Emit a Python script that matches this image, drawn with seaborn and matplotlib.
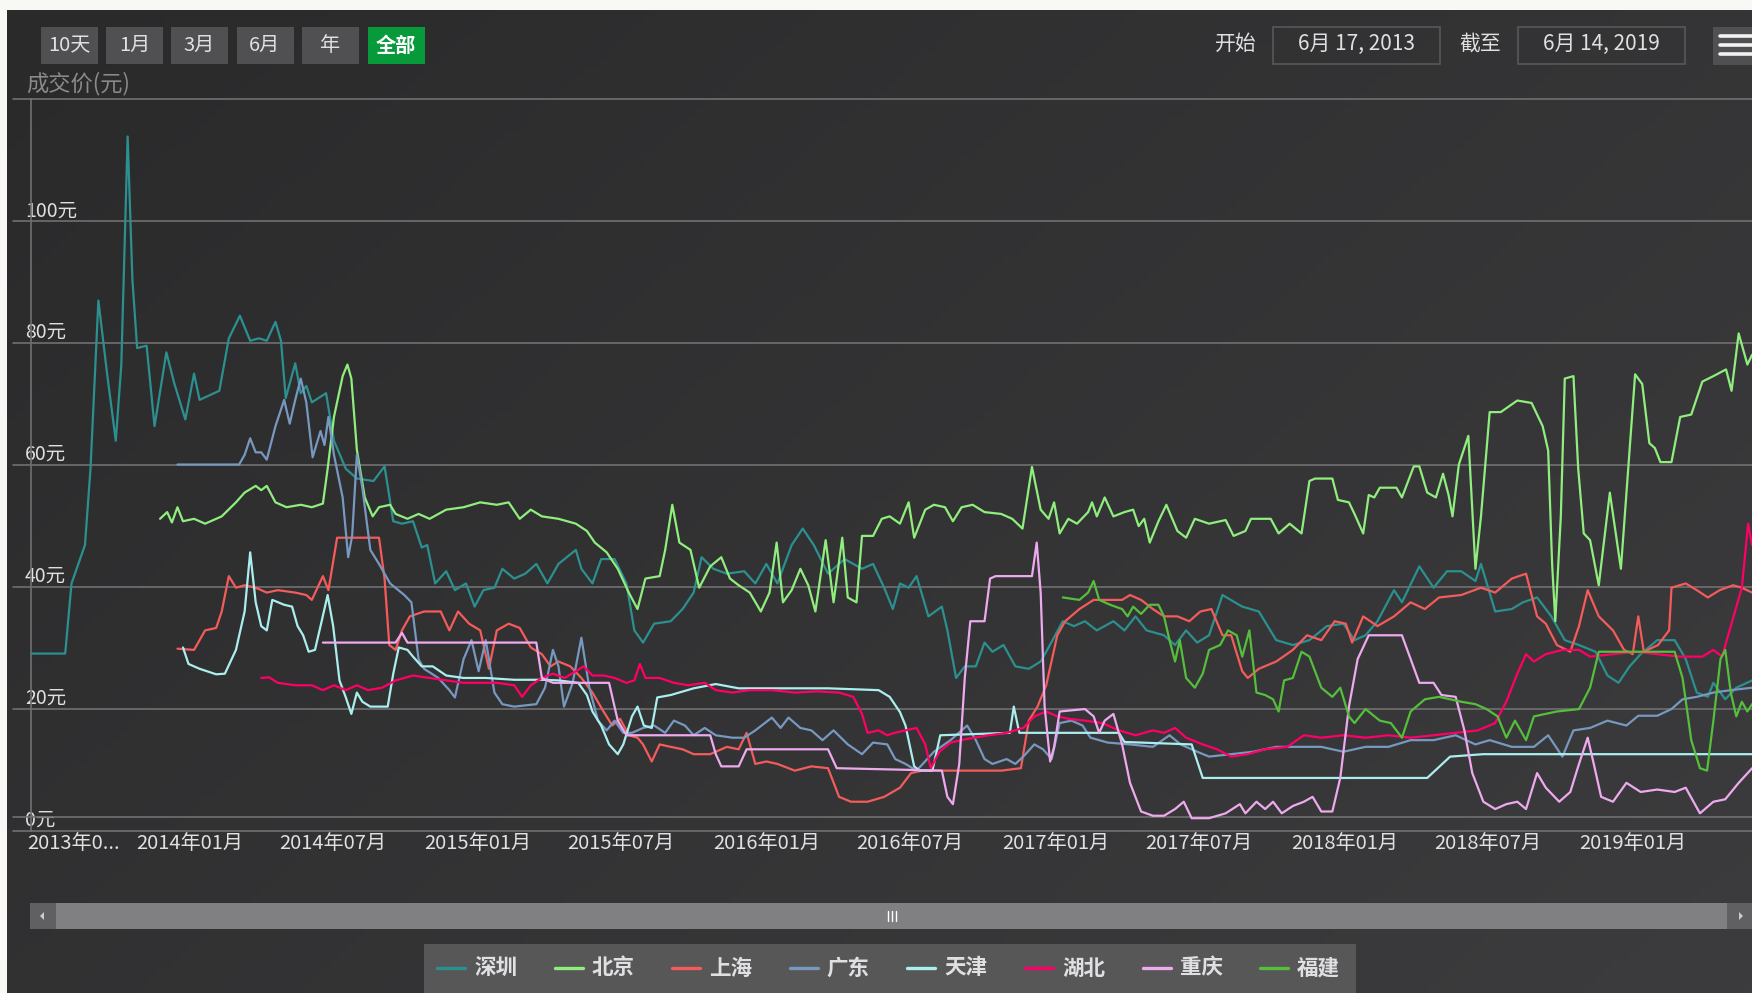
import matplotlib
matplotlib.use('Agg')

import numpy as np
import pandas as pd
import matplotlib.pyplot as plt
import seaborn as sns
from matplotlib.patches import Rectangle, Polygon
from matplotlib.lines import Line2D
from matplotlib.colors import to_rgb
from matplotlib.transforms import ScaledTranslation

# x values are days counted from BASE_DATE
BASE_DATE = pd.Timestamp('2014-01-01')

cities = ['深圳', '北京', '上海', '广东', '天津', '湖北', '重庆', '福建']
colors = ['#2b908f', '#90ee7e', '#f45b5b', '#7798bf', '#aaeeee', '#ff0066', '#eeaaee', '#55bf3b']

shenzhen = [(-200, 29.1), (-157, 29.1), (-149, 40.6), (-132, 46.9), (-125, 59.4), (-115, 87.0), (-104, 75.0),
            (-93, 64.0), (-86, 76.5), (-78, 113.9), (-72, 90.5), (-66, 79.2), (-54, 79.6), (-44, 66.4),
            (-29, 78.5), (-19, 73.4), (-5, 67.5), (6, 75.0), (13, 70.7), (38, 72.2), (50, 80.8), (64, 84.5),
            (77, 80.4), (88, 80.8), (98, 80.4), (109, 83.5), (116, 80.4), (122, 71.0), (134, 76.7), (141, 71.8),
            (148, 73.0), (155, 70.3), (173, 71.8), (183, 64.0), (198, 59.4), (212, 57.8), (233, 57.4),
            (247, 59.8), (258, 50.8), (269, 50.4), (283, 50.8), (294, 46.5), (301, 46.9), (311, 40.6),
            (325, 42.6), (336, 39.5), (350, 40.6), (361, 36.8), (372, 39.5), (386, 39.9), (396, 43.0),
            (411, 41.4), (425, 42.2), (439, 43.8), (453, 40.6), (467, 43.8), (489, 46.1), (496, 43.0),
            (510, 40.6), (521, 44.6), (538, 44.6), (553, 40.6), (563, 32.9), (574, 30.9), (588, 34.0),
            (609, 34.4), (624, 36.4), (638, 39.1), (648, 44.9), (663, 43.0), (680, 42.2), (702, 42.6),
            (716, 40.6), (730, 43.8), (744, 40.6), (762, 46.9), (776, 49.6), (790, 46.9), (808, 42.2),
            (829, 44.6), (851, 43.0), (865, 43.8), (879, 39.9), (890, 36.4), (899, 40.6), (910, 39.9),
            (920, 41.8), (935, 35.2), (952, 36.8), (959, 32.9), (970, 25.1), (981, 27.0), (995, 27.0),
            (1006, 30.9), (1016, 29.4), (1030, 30.5), (1045, 27.0), (1062, 26.6), (1077, 27.8), (1087, 30.1),
            (1105, 34.4), (1119, 33.6), (1133, 34.4), (1148, 32.9), (1169, 34.4), (1183, 32.9), (1197, 35.2),
            (1211, 32.9), (1233, 32.1), (1247, 30.5), (1261, 32.9), (1275, 30.9), (1290, 32.1), (1307, 38.7),
            (1332, 36.8), (1353, 36.0), (1375, 31.3), (1396, 30.5), (1417, 31.3), (1439, 33.6), (1460, 34.0),
            (1474, 31.3), (1488, 32.1), (1503, 34.4), (1524, 39.5), (1534, 37.5), (1556, 43.4), (1574, 39.9),
            (1591, 42.6), (1609, 42.6), (1627, 41.0), (1634, 43.8), (1652, 36.0), (1673, 36.4), (1687, 37.5),
            (1705, 38.3), (1723, 35.2), (1740, 31.3), (1758, 30.5), (1779, 29.4), (1794, 25.5), (1808, 24.3),
            (1822, 27.0), (1836, 29.0), (1857, 31.3), (1879, 31.3), (1893, 28.2), (1907, 22.7), (1921, 22.0),
            (1928, 24.3), (1943, 21.6), (1957, 23.5), (1977, 24.7)]

beijing = [(-37, 51.2), (-28, 52.3), (-22, 50.6), (-15, 53.1), (-8, 50.8), (6, 51.2), (20, 50.4), (41, 51.6),
           (59, 53.9), (70, 55.5), (84, 56.6), (91, 55.9), (98, 56.6), (109, 53.9), (123, 53.1), (141, 53.5),
           (155, 53.1), (169, 53.7), (175, 59.4), (183, 67.9), (194, 74.6), (200, 76.5), (205, 74.2),
           (212, 62.5), (222, 54.7), (232, 51.6), (240, 53.1), (254, 53.5), (261, 52.0), (276, 51.2),
           (290, 52.0), (304, 51.2), (325, 52.7), (347, 53.1), (368, 53.9), (389, 53.5), (404, 53.9),
           (418, 51.2), (432, 52.7), (446, 51.6), (467, 51.2), (489, 50.4), (503, 49.2), (513, 47.3),
           (528, 45.7), (542, 43.0), (556, 39.1), (567, 36.4), (577, 41.4), (595, 41.8), (602, 46.1),
           (611, 53.5), (620, 47.3), (634, 46.1), (645, 39.9), (659, 43.4), (673, 44.9), (684, 41.4),
           (695, 40.3), (709, 39.1), (723, 36.0), (734, 39.1), (743, 47.3), (751, 37.5), (762, 39.5),
           (773, 43.0), (783, 40.3), (792, 36.0), (805, 47.7), (815, 37.5), (826, 48.1), (833, 38.3),
           (844, 37.5), (851, 48.4), (865, 48.4), (876, 51.2), (886, 51.6), (899, 50.4), (910, 53.9),
           (917, 48.1), (931, 52.7), (942, 53.5), (956, 53.1), (966, 50.8), (977, 53.1), (991, 53.5),
           (1006, 52.3), (1027, 52.0), (1041, 51.2), (1054, 49.6), (1066, 59.7), (1077, 52.7), (1087, 51.2),
           (1094, 53.9), (1101, 48.8), (1112, 51.2), (1123, 50.4), (1137, 52.3), (1142, 53.9), (1148, 51.6),
           (1158, 54.7), (1169, 51.6), (1183, 52.3), (1194, 52.7), (1201, 50.0), (1208, 51.2), (1215, 47.3),
           (1226, 50.8), (1236, 53.5), (1250, 49.2), (1261, 48.1), (1272, 51.2), (1290, 50.4), (1311, 51.0),
           (1321, 48.4), (1336, 49.2), (1343, 51.2), (1368, 51.2), (1378, 48.8), (1392, 50.4), (1407, 48.8),
           (1417, 57.4), (1424, 57.8), (1446, 57.8), (1453, 54.3), (1467, 53.9), (1474, 52.0), (1485, 48.8),
           (1492, 55.1), (1499, 54.7), (1506, 56.3), (1527, 56.3), (1534, 54.7), (1549, 59.8), (1556, 59.8),
           (1566, 55.5), (1577, 54.7), (1586, 58.6), (1593, 55.1), (1598, 51.6), (1606, 60.1), (1618, 64.8),
           (1627, 43.0), (1634, 51.6), (1645, 68.7), (1659, 68.7), (1680, 70.6), (1698, 70.2), (1712, 66.4),
           (1719, 62.4), (1724, 43.8), (1728, 34.4), (1735, 51.6), (1740, 74.2), (1751, 74.6), (1757, 59.4),
           (1764, 48.8), (1772, 47.7), (1783, 40.3), (1797, 55.5), (1811, 43.0), (1818, 55.5), (1829, 74.9),
           (1838, 73.3), (1847, 63.6), (1854, 62.8), (1861, 60.5), (1875, 60.5), (1886, 67.9), (1900, 68.3),
           (1914, 73.7), (1928, 74.6), (1944, 75.7), (1951, 72.2), (1960, 81.6), (1971, 76.5), (1977, 78.1)]

shanghai = [(-15, 29.9), (6, 29.7), (20, 32.9), (34, 33.3), (41, 36.0), (50, 41.8), (59, 39.9), (70, 40.3),
            (84, 39.9), (98, 39.1), (112, 39.5), (134, 39.1), (148, 38.7), (155, 37.9), (169, 41.8), (176, 39.5),
            (187, 48.1), (240, 48.1), (247, 41.4), (253, 30.5), (261, 29.7), (269, 32.9), (279, 35.2),
            (297, 36.0), (318, 36.0), (329, 32.9), (340, 36.0), (354, 34.0), (368, 32.9), (379, 26.6),
            (389, 32.9), (404, 34.0), (418, 33.3), (432, 30.1), (446, 29.0), (457, 27.0), (467, 27.8),
            (482, 27.0), (496, 25.1), (510, 22.7), (524, 19.6), (535, 17.3), (545, 18.4), (556, 15.7),
            (567, 15.3), (574, 14.2), (585, 11.4), (595, 14.2), (609, 13.8), (624, 13.4), (638, 12.6),
            (659, 12.6), (680, 13.8), (695, 13.4), (705, 16.1), (716, 11.0), (730, 11.4), (744, 11.0),
            (766, 9.9), (787, 10.6), (808, 10.3), (822, 5.6), (837, 4.8), (858, 4.8), (879, 5.6), (899, 7.1),
            (913, 9.5), (927, 9.9), (956, 9.9), (991, 9.9), (1027, 9.9), (1052, 10.3), (1062, 18.1),
            (1073, 20.4), (1084, 23.9), (1098, 32.1), (1108, 34.4), (1126, 36.4), (1144, 37.9), (1162, 37.9),
            (1180, 37.9), (1190, 38.7), (1204, 37.9), (1219, 36.4), (1233, 35.2), (1250, 35.2), (1265, 34.4),
            (1279, 36.0), (1293, 36.4), (1307, 32.1), (1318, 32.1), (1332, 26.2), (1339, 25.1), (1353, 26.6),
            (1375, 27.8), (1396, 29.7), (1414, 32.1), (1432, 31.3), (1449, 34.4), (1463, 34.0), (1471, 30.9),
            (1485, 35.2), (1503, 33.6), (1524, 35.2), (1545, 37.5), (1563, 36.4), (1581, 38.3), (1609, 38.7),
            (1634, 39.9), (1652, 39.1), (1673, 41.4), (1691, 42.2), (1705, 35.2), (1716, 34.0), (1730, 30.5),
            (1747, 29.4), (1758, 33.6), (1769, 39.5), (1783, 35.2), (1801, 32.9), (1815, 29.7), (1826, 29.0),
            (1833, 35.2), (1840, 29.4), (1858, 30.5), (1872, 32.9), (1875, 39.9), (1893, 40.6), (1907, 39.5),
            (1921, 38.3), (1936, 39.5), (1953, 40.3), (1964, 39.9), (1977, 39.1)]

guangdong = [(-15, 60.1), (63, 60.1), (70, 61.7), (77, 64.4), (84, 62.1), (91, 62.1), (98, 60.9), (109, 66.4),
             (120, 70.7), (127, 66.8), (134, 70.7), (141, 74.2), (148, 70.3), (156, 61.3), (166, 65.6),
             (171, 63.3), (176, 67.9), (183, 61.7), (194, 54.7), (201, 44.9), (206, 48.4), (212, 61.7),
             (219, 56.2), (229, 46.1), (240, 43.8), (254, 40.6), (272, 38.7), (281, 37.5), (290, 28.2),
             (297, 26.6), (315, 25.1), (329, 23.1), (336, 21.9), (347, 28.2), (357, 31.3), (366, 26.2),
             (375, 31.3), (386, 22.7), (396, 20.8), (411, 20.4), (439, 20.8), (450, 23.5), (460, 29.7),
             (467, 27.0), (474, 20.4), (485, 24.3), (496, 31.7), (506, 23.5), (517, 18.1), (528, 16.5),
             (538, 18.1), (549, 16.1), (560, 16.1), (574, 16.9), (588, 17.3), (602, 16.1), (613, 18.1),
             (627, 17.3), (638, 15.7), (652, 16.9), (666, 15.7), (687, 15.3), (702, 15.3), (716, 16.5),
             (737, 18.6), (748, 16.9), (758, 18.6), (773, 16.9), (787, 16.5), (801, 14.9), (815, 16.5),
             (833, 14.2), (851, 12.6), (865, 14.5), (883, 14.2), (893, 11.8), (906, 11.0), (920, 9.9),
             (942, 13.0), (963, 14.9), (984, 17.3), (995, 14.9), (1006, 11.8), (1016, 11.0), (1034, 11.8),
             (1045, 11.0), (1055, 12.2), (1069, 14.2), (1080, 13.4), (1091, 11.8), (1101, 17.7), (1116, 18.1),
             (1130, 17.3), (1140, 15.3), (1162, 14.5), (1190, 14.2), (1219, 13.8), (1240, 15.7), (1254, 14.2),
             (1275, 13.0), (1290, 12.2), (1318, 12.6), (1346, 13.0), (1375, 13.8), (1403, 13.8), (1432, 13.8),
             (1460, 13.0), (1488, 13.8), (1517, 13.8), (1545, 14.9), (1574, 14.9), (1602, 15.7), (1627, 14.2),
             (1645, 14.9), (1673, 13.8), (1701, 13.8), (1719, 15.7), (1737, 12.2), (1751, 16.5), (1772, 16.9),
             (1794, 18.1), (1818, 17.3), (1833, 18.9), (1857, 18.9), (1875, 20.0), (1889, 21.6), (1907, 22.0),
             (1928, 22.7), (1950, 23.1), (1977, 23.5)]

tianjin = [(-8, 30.1), (-1, 27.4), (13, 26.6), (34, 25.7), (45, 25.8), (59, 29.7), (70, 36.0), (77, 45.7),
           (84, 37.5), (91, 33.6), (98, 32.9), (105, 37.9), (120, 37.1), (130, 36.8), (137, 33.6), (144, 32.1),
           (151, 29.4), (159, 29.7), (166, 33.6), (175, 38.7), (182, 33.6), (190, 24.7), (198, 21.9),
           (205, 19.2), (212, 22.7), (219, 21.2), (229, 20.4), (251, 20.4), (258, 25.8), (265, 30.1),
           (276, 29.7), (283, 28.6), (294, 27.0), (308, 27.0), (325, 25.5), (347, 25.1), (375, 25.1),
           (411, 24.8), (446, 24.8), (467, 24.7), (492, 24.3), (503, 22.3), (510, 19.6), (521, 17.3),
           (531, 14.2), (542, 12.6), (549, 14.2), (560, 18.8), (567, 20.4), (575, 17.3), (585, 16.9),
           (592, 21.9), (609, 22.3), (638, 23.4), (666, 24.1), (695, 23.4), (751, 23.4), (808, 23.4),
           (872, 23.1), (886, 22.0), (899, 19.5), (906, 17.3), (917, 10.6), (924, 9.9), (940, 9.9),
           (950, 15.7), (1038, 16.1), (1043, 20.4), (1050, 16.1), (1176, 16.1), (1183, 14.6), (1268, 14.2),
           (1282, 8.7), (1566, 8.7), (1595, 12.2), (1637, 12.6), (1977, 12.6)]

hubei = [(91, 25.1), (101, 25.2), (112, 24.3), (134, 23.9), (155, 23.9), (169, 23.1), (183, 23.9), (198, 23.1),
         (212, 23.9), (226, 23.1), (244, 23.5), (261, 24.7), (283, 25.5), (304, 25.1), (325, 24.7), (347, 24.3),
         (368, 24.3), (389, 24.3), (411, 23.9), (421, 22.0), (432, 23.9), (446, 25.1), (460, 25.8), (475, 25.1),
         (489, 26.2), (499, 27.0), (510, 25.5), (524, 25.5), (538, 25.1), (553, 24.3), (563, 24.7), (570, 27.4),
         (577, 25.1), (595, 25.1), (613, 24.3), (631, 23.9), (652, 24.3), (666, 23.1), (687, 22.7), (709, 23.1),
         (737, 23.1), (766, 22.7), (794, 22.9), (822, 22.7), (840, 22.0), (851, 19.2), (858, 16.1), (872, 16.5),
         (883, 15.7), (892, 16.1), (906, 16.5), (920, 16.9), (931, 14.2), (938, 10.3), (949, 13.0), (963, 14.5),
         (984, 15.1), (1006, 15.6), (1034, 16.1), (1055, 16.9), (1069, 18.8), (1084, 19.6), (1098, 18.8),
         (1112, 18.4), (1133, 18.1), (1155, 17.7), (1176, 16.5), (1197, 15.7), (1219, 16.5), (1233, 16.1),
         (1247, 16.9), (1261, 15.3), (1282, 14.2), (1300, 13.4), (1318, 12.2), (1339, 12.6), (1361, 13.4),
         (1389, 13.8), (1410, 15.7), (1432, 15.3), (1460, 15.7), (1488, 15.3), (1517, 15.7), (1545, 15.3),
         (1574, 15.7), (1602, 16.1), (1630, 16.5), (1652, 17.7), (1666, 21.2), (1680, 25.8), (1691, 29.0),
         (1701, 27.8), (1716, 29.0), (1737, 29.7), (1758, 29.7), (1772, 28.6), (1801, 29.0), (1829, 29.4),
         (1857, 29.0), (1886, 28.6), (1914, 28.6), (1928, 29.7), (1939, 28.6), (1950, 33.6), (1964, 39.9),
         (1972, 50.4), (1977, 46.9)]

chongqing = [(169, 30.9), (261, 30.9), (269, 32.5), (276, 30.9), (439, 30.9), (446, 25.1), (460, 24.3),
             (531, 24.3), (542, 18.1), (553, 15.7), (659, 15.7), (666, 12.6), (673, 10.6), (695, 10.6),
             (705, 13.4), (808, 13.4), (819, 10.3), (952, 9.9), (959, 5.6), (966, 4.4), (974, 11.0), (981, 25.1),
             (988, 34.4), (1006, 34.4), (1013, 41.4), (1020, 41.8), (1066, 41.8), (1072, 47.3), (1077, 39.1),
             (1082, 20.4), (1089, 11.4), (1094, 13.8), (1101, 19.6), (1133, 20.0), (1144, 18.8), (1151, 16.1),
             (1158, 18.1), (1169, 19.2), (1180, 14.2), (1190, 7.9), (1204, 3.2), (1219, 2.5), (1233, 2.5),
             (1247, 3.6), (1258, 4.8), (1268, 2.1), (1290, 2.1), (1311, 2.9), (1329, 4.4), (1336, 2.9),
             (1350, 4.8), (1361, 3.6), (1371, 4.8), (1382, 2.9), (1396, 4.1), (1410, 4.8), (1421, 5.6),
             (1432, 3.2), (1446, 3.2), (1456, 8.7), (1467, 20.4), (1478, 28.2), (1492, 32.1), (1534, 32.1),
             (1545, 28.2), (1556, 24.3), (1574, 24.3), (1584, 22.3), (1602, 22.0), (1613, 16.5), (1623, 9.5),
             (1637, 4.8), (1652, 3.6), (1666, 4.4), (1680, 4.8), (1691, 3.6), (1705, 9.5), (1716, 7.1),
             (1733, 4.8), (1747, 6.4), (1758, 11.0), (1769, 15.3), (1776, 11.4), (1786, 5.6), (1801, 4.8),
             (1818, 7.9), (1836, 6.4), (1857, 6.8), (1879, 6.4), (1893, 7.1), (1911, 2.9), (1928, 4.8),
             (1943, 5.2), (1960, 7.9), (1977, 10.3)]

fujian = [(1105, 38.3), (1126, 37.9), (1137, 39.1), (1144, 41.0), (1151, 37.9), (1165, 37.1), (1180, 36.4),
          (1187, 35.2), (1194, 36.8), (1204, 35.6), (1215, 37.1), (1226, 37.1), (1233, 35.2), (1240, 31.3),
          (1247, 27.8), (1253, 31.3), (1261, 25.1), (1272, 23.5), (1282, 25.8), (1290, 29.7), (1304, 30.5),
          (1314, 32.9), (1325, 32.1), (1332, 28.6), (1341, 32.9), (1350, 22.7), (1361, 22.3), (1371, 21.6),
          (1378, 19.6), (1385, 24.7), (1396, 25.1), (1407, 29.4), (1417, 28.6), (1432, 23.5), (1446, 22.0),
          (1456, 23.5), (1467, 18.8), (1474, 17.7), (1488, 20.0), (1506, 18.1), (1520, 17.7), (1534, 15.3),
          (1545, 19.6), (1563, 21.6), (1581, 22.0), (1595, 21.6), (1609, 21.2), (1627, 20.8), (1641, 20.0),
          (1655, 18.8), (1666, 15.3), (1677, 18.1), (1691, 14.9), (1701, 18.8), (1730, 19.6), (1758, 20.0),
          (1772, 23.5), (1783, 29.4), (1879, 29.4), (1889, 25.1), (1900, 14.9), (1911, 10.3), (1920, 9.9),
          (1928, 18.1), (1937, 28.2), (1943, 29.7), (1950, 22.7), (1957, 18.8), (1964, 21.2), (1971, 19.6),
          (1977, 20.8)]

series = [shenzhen, beijing, shanghai, guangdong, tianjin, hubei, chongqing, fujian]

y_ticks = [0, 20, 40, 60, 80, 100]
x_tick_dates = ['2013-07-01', '2014-01-01', '2014-07-01', '2015-01-01', '2015-07-01', '2016-01-01',
                '2016-07-01', '2017-01-01', '2017-07-01', '2018-01-01', '2018-07-01', '2019-01-01']
x_tick_labels = ['2013年0...', '2014年01月', '2014年07月', '2015年01月', '2015年07月', '2016年01月',
                 '2016年07月', '2017年01月', '2017年07月', '2018年01月', '2018年07月', '2019年01月']
range_buttons = ['10天', '1月', '3月', '6月', '年', '全部']
start_text = '6月 17, 2013'
end_text = '6月 14, 2019'

# ---- build long table for seaborn
frames = []
for name, pts in zip(cities, series):
    d = pd.DataFrame(pts, columns=['day', 'price'])
    d['date'] = BASE_DATE + pd.to_timedelta(d['day'], unit='D')
    d['city'] = name
    frames.append(d)
df = pd.concat(frames, ignore_index=True)

sns.set_theme(style='dark')
plt.rcParams['font.family'] = ['Noto Sans CJK SC', 'DejaVu Sans']
plt.rcParams['axes.unicode_minus'] = False

W, H = 1752, 993
TXT = '#e0e0e3'
GRID = '#707073'

fig = plt.figure(figsize=(W / 100, H / 100), dpi=100, facecolor='#f8f8f4')


def fx(px):
    return px / W


def fy(py):
    return 1 - py / H


# dark gradient background (top-left darker, bottom-right lighter)
bg = fig.add_axes([fx(7), 0, 1 - fx(7), 1 - 10 / H])
bg.axis('off')
gx, gy = np.meshgrid(np.linspace(0, 1, 200), np.linspace(0, 1, 120))
t = (gx * 0.6 + gy * 0.4)
c0, c1 = np.array(to_rgb('#2a2a2b')), np.array(to_rgb('#3c3c3e'))
img = c0[None, None, :] * (1 - t[..., None]) + c1[None, None, :] * t[..., None]
bg.imshow(img, aspect='auto', extent=[0, 1, 0, 1], origin='upper')
bg.set_xlim(0, 1)
bg.set_ylim(0, 1)

# ---- main plot area
left_px, top_px, bot_px = 30.7, 99.3, 831
ax = fig.add_axes([fx(left_px), fy(bot_px), 1 - fx(left_px), (bot_px - top_px) / H])
ax.set_facecolor('none')

sns.lineplot(data=df, x='date', y='price', hue='city', hue_order=cities,
             palette=dict(zip(cities, colors)), estimator=None, sort=False,
             linewidth=1.6, legend=False, ax=ax, zorder=3)

day_left = (left_px - 189.3) / 0.7905
day_right = (W - 189.3) / 0.7905
ax.set_xlim(BASE_DATE + pd.Timedelta(days=day_left), BASE_DATE + pd.Timedelta(days=day_right))
ax.set_ylim(0, 120)

ext = -(left_px - 13) / (W - left_px)
for v in [20, 40, 60, 80, 100, 120]:
    ax.axhline(v, xmin=ext, xmax=1, color=GRID, lw=1.2, clip_on=False, zorder=1)
ax.axhline(0, xmin=ext, xmax=1, color=GRID, lw=1.2, clip_on=False, zorder=1)
# upper rule of the x axis band
ax.plot([ext, 1], [14 / (bot_px - top_px)] * 2, transform=ax.transAxes, color=GRID, lw=1.2,
        clip_on=False, zorder=1)

for s in ['top', 'right', 'bottom']:
    ax.spines[s].set_visible(False)
ax.spines['left'].set_color(GRID)
ax.spines['left'].set_linewidth(1.2)

ax.set_yticks(y_ticks, labels=[f'{v}元' for v in y_ticks])
ax.tick_params(axis='y', length=0, pad=4.1, labelsize=14, labelcolor=TXT)
ax.set_xticks(pd.to_datetime(x_tick_dates), labels=x_tick_labels)
ax.tick_params(axis='x', direction='in', length=10, width=1, color=GRID, pad=1.5,
               labelsize=14.5, labelcolor=TXT)
ax.set_xlabel('')
ax.set_ylabel('')
ax.grid(False)
plt.setp(ax.get_yticklabels(), ha='left', va='bottom')

# first date label is kept inside the chart, as in the source
first = ax.get_xticklabels()[0]
first.set_ha('left')
first.set_transform(first.get_transform() + ScaledTranslation(-17 / 100, 0, fig.dpi_scale_trans))

# ---- header widgets
fig.text(fx(25.7), fy(84), '成交价(元)', color='#8a8a8c', fontsize=16, va='center', ha='left')

btn_x = [40.5, 106, 171, 236.5, 302, 367.5]
for i, lab in enumerate(range_buttons):
    sel = lab == '全部'
    fig.patches.append(Rectangle((fx(btn_x[i]), fy(64)), 57 / W, 37 / H, transform=fig.transFigure,
                                 facecolor='#079a3b' if sel else '#505053', edgecolor='none'))
    fig.text(fx(btn_x[i] + 28.5), fy(45.5), lab, color='white' if sel else TXT, fontsize=14.5,
             fontweight='bold' if sel else 'normal', ha='center', va='center')

fig.text(fx(1236), fy(44), '开始', color=TXT, fontsize=15, ha='center', va='center')
fig.text(fx(1480), fy(44), '截至', color=TXT, fontsize=15, ha='center', va='center')
for x0, x1, lab in [(1273, 1440, start_text), (1518, 1685, end_text)]:
    fig.patches.append(Rectangle((fx(x0), fy(63.5)), (x1 - x0) / W, 36.5 / H, transform=fig.transFigure,
                                 facecolor='none', edgecolor='#58585b', lw=1.2))
    fig.text(fx((x0 + x1) / 2), fy(44), lab, color=TXT, fontsize=15, ha='center', va='center')

fig.patches.append(Rectangle((fx(1713), fy(65)), (W - 1713) / W, 38 / H, transform=fig.transFigure,
                             facecolor='#505053', edgecolor='none'))
for yy in [35.5, 45, 54]:
    fig.lines.append(Line2D([fx(1720), 1.0], [fy(yy)] * 2, transform=fig.transFigure,
                            color='#f2f2f2', lw=2.6, solid_capstyle='round'))

# ---- scrollbar
sb_top, sb_bot = 903, 929
fig.patches.append(Rectangle((fx(56), fy(sb_bot)), (1727 - 56) / W, (sb_bot - sb_top) / H,
                             transform=fig.transFigure, facecolor='#808083', edgecolor='none'))
for x0, x1 in [(30, 56), (1727, W)]:
    fig.patches.append(Rectangle((fx(x0), fy(sb_bot)), (x1 - x0) / W, (sb_bot - sb_top) / H,
                                 transform=fig.transFigure, facecolor='#606063', edgecolor='none'))
ymid = (sb_top + sb_bot) / 2
fig.patches.append(Polygon([(fx(40), fy(ymid)), (fx(44), fy(ymid - 4)), (fx(44), fy(ymid + 4))],
                           closed=True, transform=fig.transFigure, facecolor='#cccccc', edgecolor='none'))
fig.patches.append(Polygon([(fx(1743), fy(ymid)), (fx(1739), fy(ymid - 4)), (fx(1739), fy(ymid + 4))],
                           closed=True, transform=fig.transFigure, facecolor='#cccccc', edgecolor='none'))
for xx in [888, 892, 896]:
    fig.lines.append(Line2D([fx(xx)] * 2, [fy(ymid - 5), fy(ymid + 5)], transform=fig.transFigure,
                            color='white', lw=1))

# ---- legend
fig.patches.append(Rectangle((fx(423.7), 0), (1356.3 - 423.7) / W, fy(944.3), transform=fig.transFigure,
                             facecolor='#575758', edgecolor='none'))
for i, (name, col) in enumerate(zip(cities, colors)):
    x0 = 437 + i * 117.6
    fig.lines.append(Line2D([fx(x0), fx(x0 + 28)], [fy(968)] * 2, transform=fig.transFigure,
                            color=col, lw=2.4))
    fig.text(fx(x0 + 37), fy(968), name, color=TXT, fontsize=15.5, fontweight='bold',
             ha='left', va='center')

fig.savefig('out.png', dpi=100, facecolor=fig.get_facecolor())
